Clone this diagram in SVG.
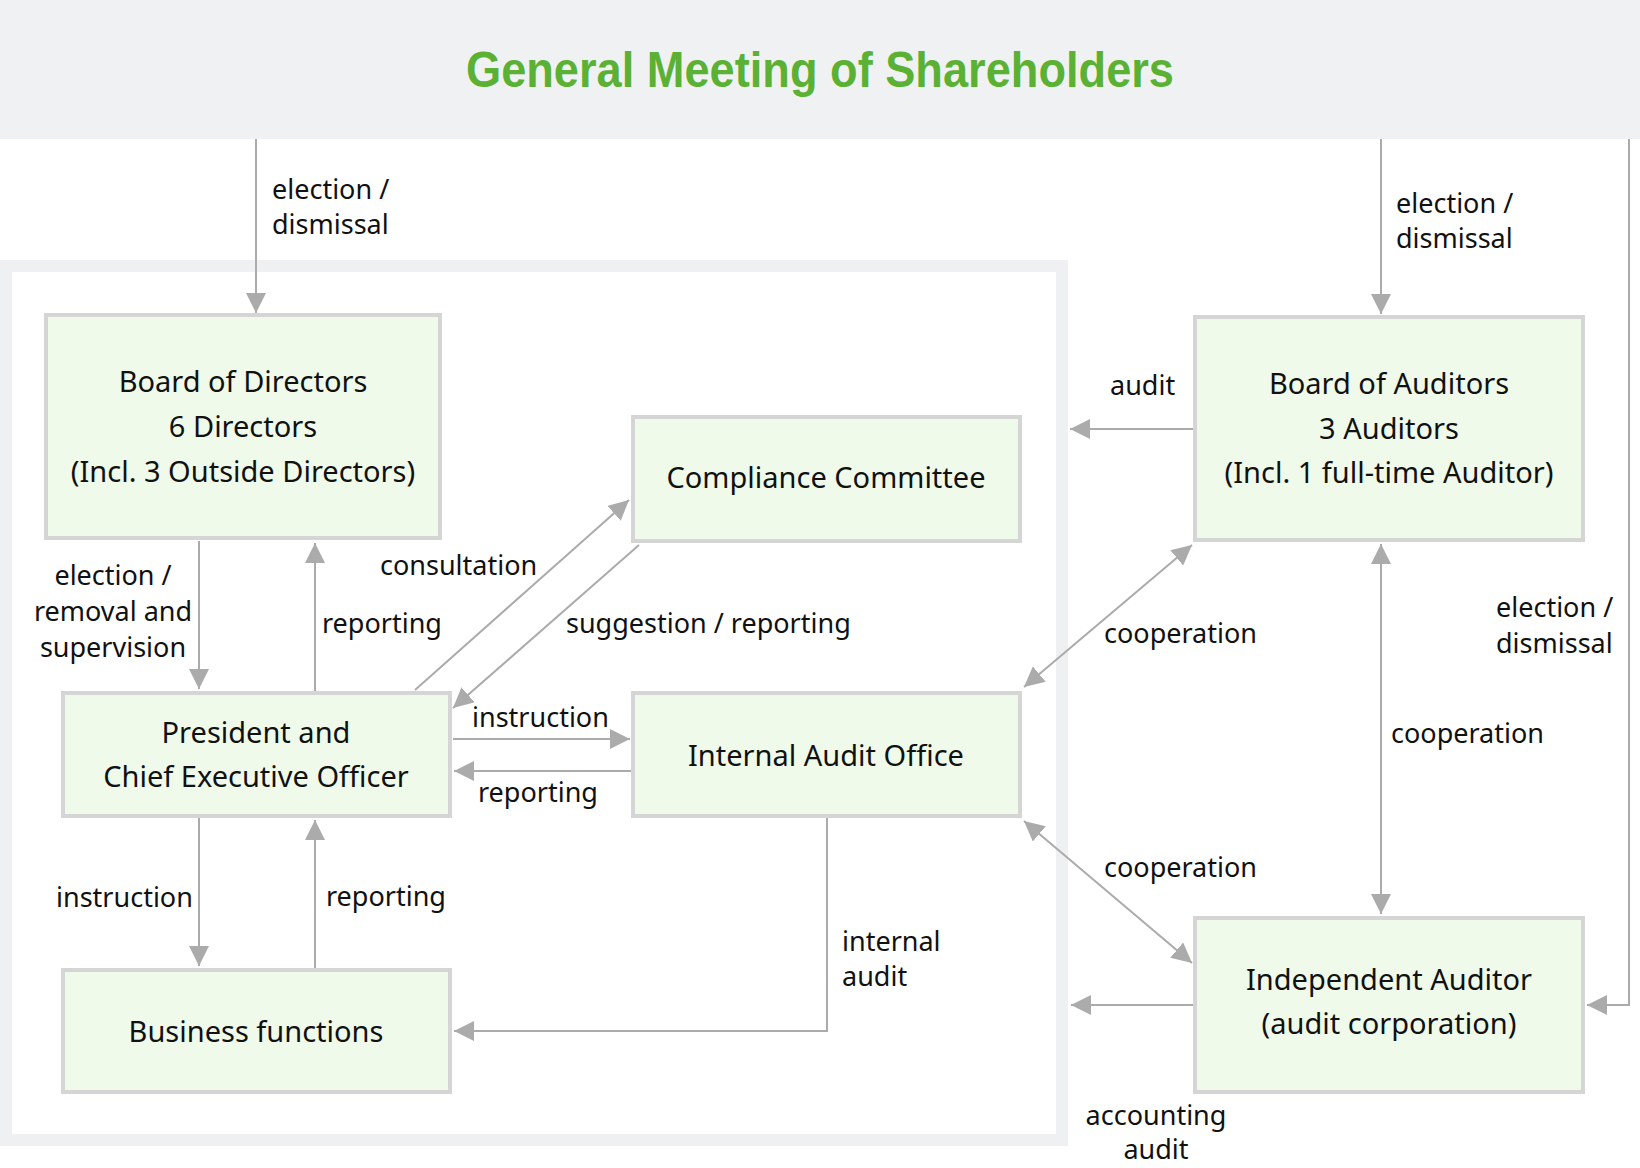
<svg xmlns="http://www.w3.org/2000/svg" width="1640" height="1168" viewBox="0 0 1640 1168">
<defs>
<style>
.node rect{fill:#effaea;stroke:#d5d5d5;stroke-width:4}
.nt{font-family:"Noto Sans","DejaVu Sans",sans-serif;font-size:29px;fill:#111;text-anchor:middle}
.lb{font-family:"Noto Sans","DejaVu Sans",sans-serif;font-size:27px;fill:#111}
.mid{text-anchor:middle}
#connectors line,#connectors polyline{stroke:#ababab;stroke-width:2;fill:none}
.one{marker-end:url(#ah)}
.two{marker-start:url(#ah);marker-end:url(#ah)}
</style>
<marker id="ah" viewBox="0 0 20 20" refX="20" refY="10" markerWidth="20" markerHeight="20" markerUnits="userSpaceOnUse" orient="auto-start-reverse">
<path d="M0,0 L20,10 L0,20 z" fill="#ababab"/>
</marker>
</defs>
<rect x="0" y="0" width="1640" height="1168" fill="#ffffff"/>
<g id="shareholders">
<rect x="0" y="0" width="1640" height="139" fill="#f0f1f3"/>
<text x="820" y="87" font-family="'Liberation Sans',Arial,sans-serif" font-weight="bold" font-size="50" fill="#5bb133" text-anchor="middle" textLength="708" lengthAdjust="spacingAndGlyphs">General Meeting of Shareholders</text>
</g>
<g id="frame">
<rect x="0" y="260" width="1068" height="886" fill="#eff0f2"/>
<rect x="12" y="272" width="1044" height="862" fill="#ffffff"/>
</g>
<g id="connectors">
<line class="one" x1="256" y1="139" x2="256" y2="313"/>
<line class="one" x1="1381" y1="139" x2="1381" y2="314"/>
<polyline class="one" points="1629,139 1629,1005 1587,1005"/>
<line class="one" x1="199" y1="541" x2="199" y2="689"/>
<line class="one" x1="315" y1="691" x2="315" y2="543"/>
<line class="one" x1="415" y1="690" x2="629" y2="500"/>
<line class="one" x1="639" y1="545" x2="453" y2="708"/>
<line class="one" x1="453" y1="739" x2="630" y2="739"/>
<line class="one" x1="631" y1="771" x2="454" y2="771"/>
<line class="one" x1="199" y1="818" x2="199" y2="966"/>
<line class="one" x1="315" y1="968" x2="315" y2="820"/>
<polyline class="one" points="827,818 827,1031 454,1031"/>
<line class="one" x1="1193" y1="429" x2="1070" y2="429"/>
<line class="two" x1="1024" y1="687" x2="1192" y2="545"/>
<line class="two" x1="1381" y1="544" x2="1381" y2="914"/>
<line class="two" x1="1024" y1="821" x2="1192" y2="963"/>
<line class="one" x1="1193" y1="1005" x2="1071" y2="1005"/>
</g>
<g id="labels">
<text class="lb" x="272" y="199">election /</text>
<text class="lb" x="272" y="234">dismissal</text>
<text class="lb" x="1396" y="213">election /</text>
<text class="lb" x="1396" y="248">dismissal</text>
<text class="lb" x="1110" y="395">audit</text>
<text class="lb mid" x="113" y="585">election /</text>
<text class="lb mid" x="113" y="621">removal and</text>
<text class="lb mid" x="113" y="657">supervision</text>
<text class="lb" x="322" y="633">reporting</text>
<text class="lb" x="380" y="575">consultation</text>
<text class="lb" x="566" y="633">suggestion / reporting</text>
<text class="lb" x="472" y="727">instruction</text>
<text class="lb" x="478" y="802">reporting</text>
<text class="lb" x="1104" y="643">cooperation</text>
<text class="lb" x="1391" y="743">cooperation</text>
<text class="lb" x="1104" y="877">cooperation</text>
<text class="lb" x="1496" y="617">election /</text>
<text class="lb" x="1496" y="653">dismissal</text>
<text class="lb" x="56" y="907">instruction</text>
<text class="lb" x="326" y="906">reporting</text>
<text class="lb" x="842" y="951">internal</text>
<text class="lb" x="842" y="986">audit</text>
<text class="lb mid" x="1156" y="1125">accounting</text>
<text class="lb mid" x="1156" y="1159">audit</text>
</g>
<g id="board-of-directors" class="node">
<rect x="46" y="315" width="394" height="223"/>
<text class="nt" x="243" y="392">Board of Directors</text>
<text class="nt" x="243" y="437">6 Directors</text>
<text class="nt" x="243" y="482">(Incl. 3 Outside Directors)</text>
</g>
<g id="compliance-committee" class="node">
<rect x="633" y="417" width="387" height="124"/>
<text class="nt" x="826" y="488">Compliance Committee</text>
</g>
<g id="president" class="node">
<rect x="63" y="693" width="387" height="123"/>
<text class="nt" x="256" y="743">President and</text>
<text class="nt" x="256" y="787">Chief Executive Officer</text>
</g>
<g id="internal-audit-office" class="node">
<rect x="633" y="693" width="387" height="123"/>
<text class="nt" x="826" y="766">Internal Audit Office</text>
</g>
<g id="business-functions" class="node">
<rect x="63" y="970" width="387" height="122"/>
<text class="nt" x="256" y="1042">Business functions</text>
</g>
<g id="board-of-auditors" class="node">
<rect x="1195" y="317" width="388" height="223"/>
<text class="nt" x="1389" y="394">Board of Auditors</text>
<text class="nt" x="1389" y="439">3 Auditors</text>
<text class="nt" x="1389" y="483">(Incl. 1 full-time Auditor)</text>
</g>
<g id="independent-auditor" class="node">
<rect x="1195" y="918" width="388" height="174"/>
<text class="nt" x="1389" y="990">Independent Auditor</text>
<text class="nt" x="1389" y="1034">(audit corporation)</text>
</g>
</svg>
